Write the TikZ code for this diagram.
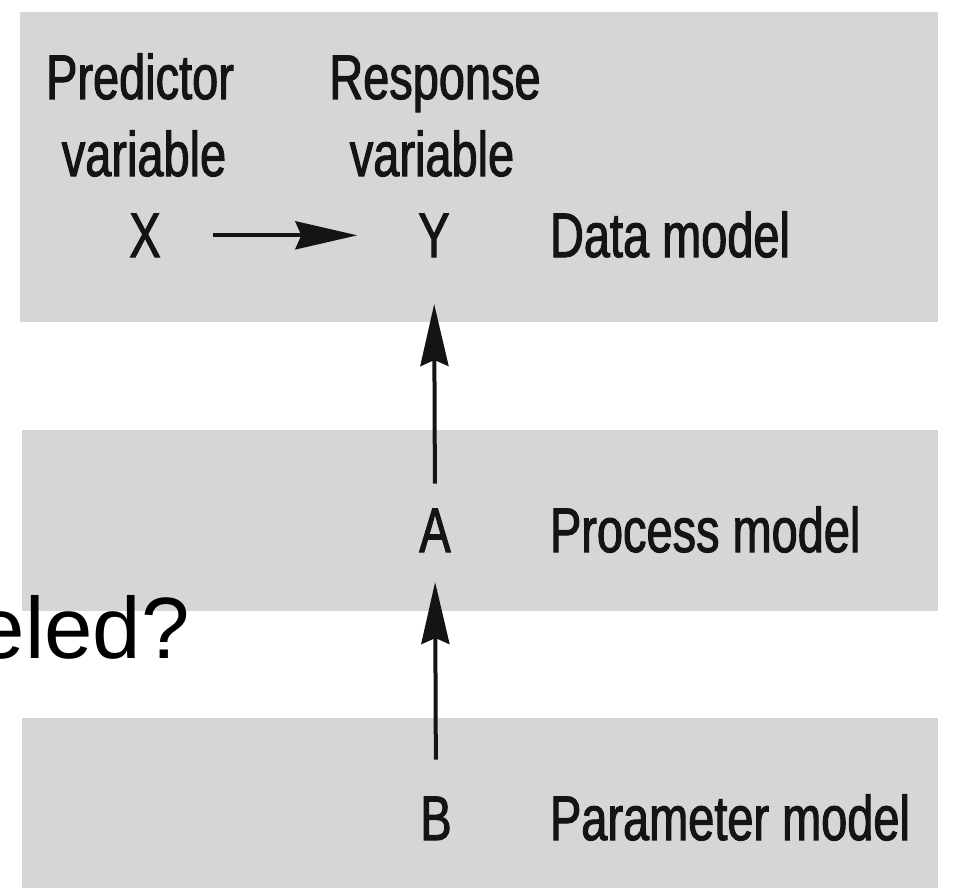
\documentclass[tikz,border=0pt]{standalone}
\usepackage{fontspec}
\usetikzlibrary{arrows.meta}
\newfontfamily\labfont[FakeStretch=0.745,FakeBold=1.6]{Liberation Sans}
\newfontfamily\bigfnt{Liberation Sans}
\definecolor{bandgray}{RGB}{214,214,214}
\tikzset{
  lab/.style={inner sep=0pt, outer sep=0pt, font=\labfont\fontsize{63}{77}\selectfont, text=black!92},
  band/.style={fill=bandgray, draw=none},
  uparrow/.style={line width=4pt, draw=black!92, -{Stealth[length=62pt,width=28pt,inset=6pt]}},
}
\begin{document}
\begin{tikzpicture}[x=1pt,y=-1pt]
\useasboundingbox (0,0) rectangle (953,888);
\clip (0,0) rectangle (953,888);
\fill[white] (0,0) rectangle (953,888);
% gray bands
\path[band] (20,12) rectangle (938,322);
\path[band] (22,430) rectangle (938,611);
\path[band] (22,718) rectangle (938,888);
% column headings
\node[lab, anchor=base] (pred1) at (140,99) {Predictor};
\node[lab, anchor=base] (pred2) at (144,176) {variable};
\node[lab, anchor=base] (resp1) at (435,99) {Response};
\node[lab, anchor=base] (resp2) at (432,176) {variable};
% variables
\node[lab, anchor=base] (X) at (145,257) {X};
\node[lab, anchor=base] (Y) at (434,257) {Y};
\node[lab, anchor=base] (A) at (435,552) {A};
\node[lab, anchor=base] (B) at (436,840) {B};
% model labels
\node[lab, anchor=base west] (data) at (550,257) {Data model};
\node[lab, anchor=base west] (proc) at (550,552) {Process model};
\node[lab, anchor=base west] (param) at (550,840) {Parameter model};
% partial large text
\node[inner sep=0pt, anchor=base east, font=\bigfnt\fontsize{87}{100}\selectfont] (eled) at (190,658) {eled?};
% arrows
\draw[uparrow, shorten <=52pt, shorten >=61pt] (X.east) -- (Y.west);
\draw[uparrow, shorten <=25pt, shorten >=47pt] (A.north) -- (Y.south);
\draw[uparrow, shorten <=37pt, shorten >=30pt] (B.north) -- (A.south);
\end{tikzpicture}
\end{document}
